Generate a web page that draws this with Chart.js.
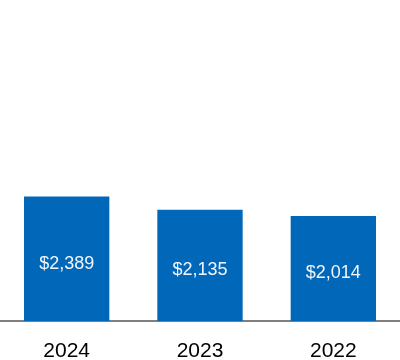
<!DOCTYPE html>
<html>
<head>
<meta charset="utf-8">
<script src="https://cdn.jsdelivr.net/npm/chart.js@4"></script>
<style>
  body { margin: 0; background: #fff; }
  canvas { display: block; }
</style>
</head>
<body>
<canvas id="revChart" width="400" height="360"></canvas>
<script>
const years = ["2024", "2023", "2022"];
const revenue = [2389, 2135, 2014];
const valueLabels = ["$2,389", "$2,135", "$2,014"];

const barColor = "#0067b9";

// writes the dollar amount inside each bar
const insideLabels = {
    id: "insideLabels",
    afterDatasetsDraw(chart) {
        const ctx = chart.ctx;
        const meta = chart.getDatasetMeta(0);
        ctx.save();
        ctx.fillStyle = "#f2f6fb";
        ctx.font = "18px 'Liberation Sans', Arial, sans-serif";
        ctx.textAlign = "center";
        ctx.textBaseline = "middle";
        meta.data.forEach((bar, i) => {
            const mid = (bar.y + bar.base) / 2;
            ctx.fillText(valueLabels[i], bar.x, mid + 5);
        });
        ctx.restore();
    }
};

const ctx = document.getElementById("revChart");

new Chart(ctx, {
    type: "bar",
    data: {
        labels: years,
        datasets: [
            {
                data: revenue,
                backgroundColor: barColor,
                barPercentage: 0.64,
                categoryPercentage: 1
            }
        ]
    },
    options: {
        responsive: false,
        animation: false,
        layout: { padding: 0 },
        plugins: {
            legend: { display: false },
            tooltip: { enabled: false }
        },
        scales: {
            x: {
                grid: { display: false, drawTicks: false },
                border: { display: true, color: "#7f7f7f", width: 2 },
                ticks: {
                    color: "#000",
                    padding: 20,
                    font: { family: "'Liberation Sans', Arial, sans-serif", size: 21, lineHeight: 1 }
                },
                afterFit(scale) {
                    scale.height = 39;
                }
            },
            y: {
                display: false,
                min: 0,
                max: 6160
            }
        }
    },
    plugins: [insideLabels]
});
</script>
</body>
</html>
